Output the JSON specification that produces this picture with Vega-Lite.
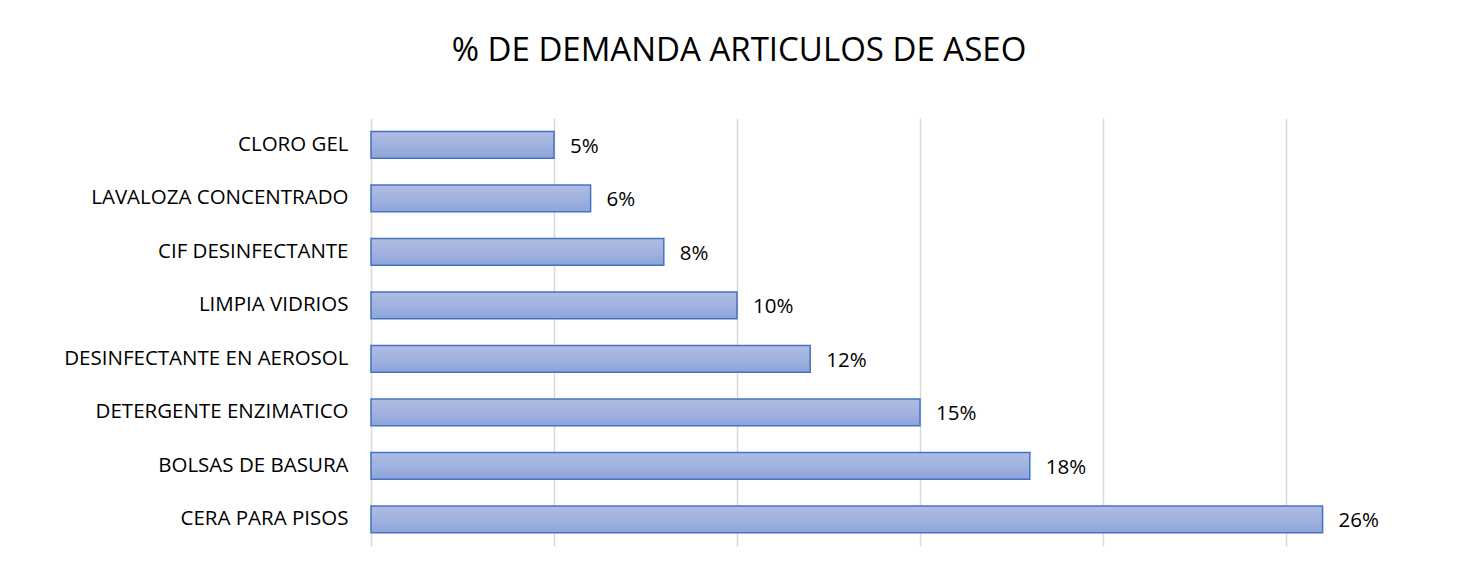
{
  "$schema": "https://vega.github.io/schema/vega-lite/v6.json",
  "autosize": "none",
  "width": 1098,
  "height": 428,
  "padding": {"left": 371, "top": 118, "right": 9, "bottom": 17},
  "background": "white",
  "title": {
    "text": "% DE DEMANDA ARTICULOS DE ASEO",
    "font": "Open Sans",
    "fontSize": 33,
    "fontWeight": "normal",
    "color": "#000000",
    "anchor": "middle",
    "dx": -181,
    "offset": 50
  },
  "data": {
    "values": [
      {"articulo": "CLORO GEL", "pct": 0.05},
      {"articulo": "LAVALOZA CONCENTRADO", "pct": 0.06},
      {"articulo": "CIF DESINFECTANTE", "pct": 0.08},
      {"articulo": "LIMPIA VIDRIOS", "pct": 0.10},
      {"articulo": "DESINFECTANTE EN AEROSOL", "pct": 0.12},
      {"articulo": "DETERGENTE ENZIMATICO", "pct": 0.15},
      {"articulo": "BOLSAS DE BASURA", "pct": 0.18},
      {"articulo": "CERA PARA PISOS", "pct": 0.26}
    ]
  },
  "encoding": {
    "y": {
      "field": "articulo",
      "type": "nominal",
      "sort": null,
      "scale": {"paddingInner": 0.5, "paddingOuter": 0.25},
      "axis": {
        "title": null,
        "domain": false,
        "ticks": false,
        "labelPadding": 23,
        "labelFont": "Open Sans",
        "labelFontSize": 20.5,
        "labelColor": "#000000",
        "labelLimit": 400
      }
    },
    "x": {
      "field": "pct",
      "type": "quantitative",
      "scale": {"domain": [0, 0.3], "nice": false},
      "axis": {
        "title": null,
        "values": [0, 0.05, 0.1, 0.15, 0.2, 0.25],
        "labels": false,
        "ticks": false,
        "domain": false,
        "grid": true,
        "gridColor": "#d9d9d9",
        "gridWidth": 1.5
      }
    }
  },
  "layer": [
    {
      "mark": {
        "type": "bar",
        "stroke": "#4472c4",
        "strokeWidth": 1.5,
        "color": {
          "gradient": "linear",
          "x1": 0, "y1": 0, "x2": 0, "y2": 1,
          "stops": [
            {"offset": 0, "color": "#b0bde3"},
            {"offset": 0.5, "color": "#a1b2df"},
            {"offset": 1, "color": "#8da5da"}
          ]
        }
      }
    },
    {
      "mark": {
        "type": "text",
        "align": "left",
        "baseline": "middle",
        "dx": 16,
        "dy": 2,
        "font": "Open Sans",
        "fontSize": 20.5,
        "color": "#000000"
      },
      "encoding": {
        "text": {"field": "pct", "type": "quantitative", "format": ".0%"},
        "detail": {"value": 1}
      }
    }
  ],
  "config": {"view": {"stroke": null}}
}
